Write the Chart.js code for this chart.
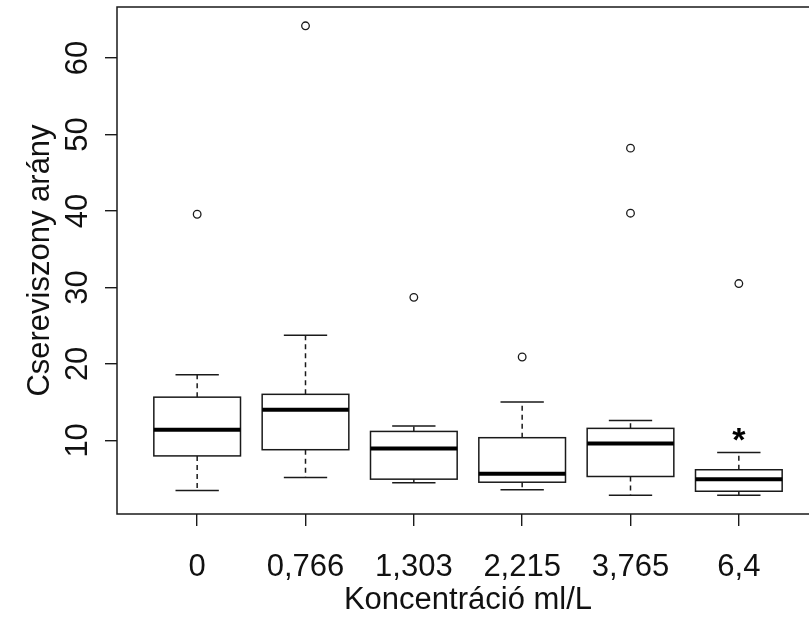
<!DOCTYPE html>
<html>
<head>
<meta charset="utf-8">
<script src="https://cdn.jsdelivr.net/npm/chart.js@4.4.1/dist/chart.umd.min.js"></script>
<style>
  html, body { margin: 0; padding: 0; background: #fff; }
  #wrap { width: 809px; height: 617px; overflow: hidden; }
</style>
</head>
<body>
<div id="wrap"><canvas id="boxChart" width="830" height="617"></canvas></div>
<script>
// values
const categories = ['0', '0,766', '1,303', '2,215', '3,765', '6,4'];
const whiskerLow = [3.44, 5.15, 4.45, 3.54, 2.83, 2.83];
const q1 = [7.97, 8.78, 4.93, 4.53, 5.28, 3.35];
const median = [11.38, 14.02, 8.95, 5.63, 9.60, 4.93];
const q3 = [15.65, 16.02, 11.17, 10.35, 11.57, 6.16];
const whiskerHigh = [18.58, 23.75, 11.87, 15.01, 12.61, 8.42];
const outliers = [[39.56], [64.2], [28.7], [20.9], [48.2, 39.7], [30.5]];
const significance = ['', '', '', '', '', '*'];
const yTicks = [10, 20, 30, 40, 50, 60];

const FONT = '"Liberation Sans", Arial, sans-serif';
const INK = '#1a1a1a';

// R style axis range: data range extended by 4%
const allVals = whiskerLow.concat(whiskerHigh, outliers.flat());
const lo = Math.min(...allVals), hi = Math.max(...allVals);
const yPad = (hi - lo) * 0.04;
const xPad = categories.length * 0.04;

const outlierPoints = [];
outliers.forEach((list, i) => list.forEach(v => outlierPoints.push({ x: i + 1, y: v })));

const boxPlugin = {
  id: 'boxes',
  beforeDatasetsDraw(chart) {
    const ctx = chart.ctx;
    const xs = chart.scales.x, ys = chart.scales.y;
    const unit = xs.getPixelForValue(1) - xs.getPixelForValue(0);
    const half = unit * 0.4, cap = unit * 0.2;
    ctx.save();
    ctx.strokeStyle = INK;
    categories.forEach((c, i) => {
      const cx = xs.getPixelForValue(i + 1);
      const yLo = ys.getPixelForValue(whiskerLow[i]);
      const yQ1 = ys.getPixelForValue(q1[i]);
      const yMed = ys.getPixelForValue(median[i]);
      const yQ3 = ys.getPixelForValue(q3[i]);
      const yHi = ys.getPixelForValue(whiskerHigh[i]);
      // dashed whiskers
      ctx.lineWidth = 1.5;
      ctx.setLineDash([5, 4]);
      ctx.beginPath();
      ctx.moveTo(cx, yQ3); ctx.lineTo(cx, yHi);
      ctx.moveTo(cx, yQ1); ctx.lineTo(cx, yLo);
      ctx.stroke();
      ctx.setLineDash([]);
      // staples
      ctx.beginPath();
      ctx.moveTo(cx - cap, yHi); ctx.lineTo(cx + cap, yHi);
      ctx.moveTo(cx - cap, yLo); ctx.lineTo(cx + cap, yLo);
      ctx.stroke();
      // box
      ctx.fillStyle = '#fff';
      ctx.fillRect(cx - half, yQ3, half * 2, yQ1 - yQ3);
      ctx.strokeRect(cx - half, yQ3, half * 2, yQ1 - yQ3);
      // median
      ctx.lineWidth = 4;
      ctx.strokeStyle = '#000';
      ctx.beginPath();
      ctx.moveTo(cx - half, yMed); ctx.lineTo(cx + half, yMed);
      ctx.stroke();
      ctx.strokeStyle = INK;
      // significance mark above the upper whisker
      if (significance[i]) {
        ctx.font = 'bold 34px ' + FONT;
        ctx.fillStyle = '#000';
        ctx.textAlign = 'center';
        ctx.textBaseline = 'alphabetic';
        const m = ctx.measureText(significance[i]);
        const mid = yHi - 17.5;
        ctx.fillText(significance[i], cx, mid + (m.actualBoundingBoxAscent - m.actualBoundingBoxDescent) / 2);
      }
    });
    ctx.restore();
  },
  afterDraw(chart) {
    const a = chart.chartArea, ctx = chart.ctx;
    ctx.save();
    ctx.strokeStyle = INK;
    ctx.lineWidth = 1.5;
    ctx.strokeRect(a.left, a.top, a.right - a.left, a.bottom - a.top);
    ctx.restore();
  }
};

const axisFont = { family: FONT, size: 31 };

new Chart(document.getElementById('boxChart'), {
  type: 'scatter',
  data: {
    datasets: [{
      label: 'outliers',
      data: outlierPoints,
      pointStyle: 'circle',
      pointRadius: 3.8,
      pointBorderWidth: 1.3,
      borderColor: INK,
      backgroundColor: '#fff',
      showLine: false,
    }],
  },
  options: {
    responsive: false,
    animation: false,
    layout: { padding: { top: 7, right: 11, left: 0, bottom: 0 } },
    plugins: { legend: { display: false }, tooltip: { enabled: false } },
    scales: {
      x: {
        type: 'linear',
        min: 0.5 - xPad,
        max: categories.length + 0.5 + xPad,
        afterBuildTicks: (s) => { s.ticks = categories.map((c, i) => ({ value: i + 1 })); },
        afterFit: (s) => { s.height = 103; s.paddingLeft = 0; s.paddingRight = 0; },
        grid: { drawOnChartArea: false, drawTicks: true, tickLength: 12, color: INK, tickColor: INK, lineWidth: 1.4, tickWidth: 1.4 },
        border: { display: false },
        ticks: {
          autoSkip: false, maxRotation: 0, minRotation: 0, padding: 23,
          color: '#111', font: axisFont,
          callback: (v) => categories[v - 1],
        },
        title: { display: true, text: 'Koncentráció ml/L', color: '#111', font: { family: FONT, size: 31, lineHeight: 1 }, padding: { top: 0, bottom: 1 } },
      },
      y: {
        type: 'linear',
        min: lo - yPad,
        max: hi + yPad,
        afterBuildTicks: (s) => { s.ticks = yTicks.map(v => ({ value: v })); },
        afterFit: (s) => { s.width = 117; s.paddingTop = 0; s.paddingBottom = 0; },
        grid: { drawOnChartArea: false, drawTicks: true, tickLength: 12, color: INK, tickColor: INK, lineWidth: 1.4, tickWidth: 1.4 },
        border: { display: false },
        ticks: {
          minRotation: 90, maxRotation: 90, crossAlign: 'center', padding: 9,
          color: '#111', font: axisFont,
          callback: (v) => String(v),
        },
        title: { display: true, text: 'Csereviszony arány', color: '#111', font: { family: FONT, size: 31, lineHeight: 1.2 }, padding: { top: 22, bottom: 0 } },
      },
    },
  },
  plugins: [boxPlugin],
});
</script>
</body>
</html>
